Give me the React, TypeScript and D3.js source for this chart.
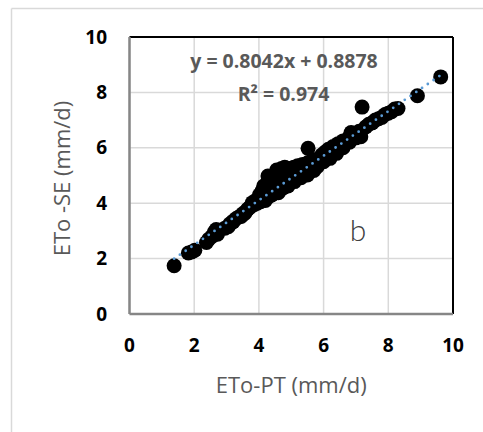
import React from "react";
import * as d3 from "d3";

const xTicks = [0, 2, 4, 6, 8, 10];
const yTicks = [0, 2, 4, 6, 8, 10];
const xTitle = "ETo-PT (mm/d)";
const yTitle = "ETo -SE (mm/d)";
const eqLabel = "y = 0.8042x + 0.8878";
const r2Label = "R² = 0.974";
const panelLabel = "b";
const slope = 0.8042;
const intercept = 0.8878;

const etoPT = [
  1.38, 1.82, 1.92, 2.02, 2.38, 2.45, 2.55, 2.62, 2.68, 2.72,
  2.95, 3.05, 3.1, 3.2, 3.3, 3.38, 3.45, 3.5, 3.6, 3.65,
  3.72, 3.78, 3.8, 3.85, 3.9, 3.95, 4.0, 4.02, 4.05, 4.1,
  4.12, 4.15, 4.2, 4.22, 4.28, 4.3, 4.32, 4.38, 4.4, 4.45,
  4.48, 4.5, 4.55, 4.58, 4.6, 4.65, 4.7, 4.72, 4.75, 4.8,
  4.82, 4.88, 4.9, 4.95, 5.0, 5.02, 5.08, 5.1, 5.15, 5.2,
  5.22, 5.3, 5.35, 5.4, 5.45, 5.5, 5.52, 5.55, 5.6, 5.65,
  5.7, 5.75, 5.82, 5.9, 5.95, 6.0, 6.05, 6.1, 6.15, 6.2,
  6.3, 6.35, 6.45, 6.5, 6.6, 6.7, 6.8, 6.85, 6.95, 7.1,
  7.15, 7.19, 7.3, 7.4, 7.5, 7.6, 7.7, 7.8, 7.9, 8.0,
  8.1, 8.2, 8.3, 8.9, 9.62,
  4.9, 5.1, 5.3, 5.5, 5.7, 5.8, 6.0, 6.2, 6.4, 6.6,
  6.8, 7.0, 3.2, 3.55, 4.6,
];
const etoSE = [
  1.74, 2.2, 2.24, 2.3, 2.58, 2.7, 2.8, 2.95, 3.05, 2.88,
  3.1, 3.15, 3.25, 3.35, 3.45, 3.5, 3.52, 3.62, 3.7, 3.78,
  3.85, 3.92, 4.02, 3.95, 4.1, 4.0, 4.15, 4.3, 4.05, 4.45,
  4.2, 4.62, 4.1, 4.35, 4.98, 4.5, 4.25, 4.7, 4.3, 4.55,
  4.85, 4.4, 5.2, 4.6, 4.45, 4.95, 5.25, 4.7, 4.55, 5.3,
  4.9, 4.75, 5.1, 5.25, 4.85, 5.0, 5.3, 4.95, 5.1, 5.35,
  5.05, 5.2, 5.4, 5.15, 5.3, 5.45, 5.98, 5.25, 5.5, 5.35,
  5.55, 5.45, 5.6, 5.55, 5.75, 5.65, 5.85, 5.75, 5.95, 5.85,
  6.05, 5.95, 6.15, 6.05, 6.25, 6.2, 6.4, 6.55, 6.45, 6.6,
  6.4, 7.47, 6.75, 6.85, 6.9, 7.0, 7.05, 7.1, 7.2, 7.25,
  7.3, 7.4, 7.42, 7.88, 8.56,
  4.62, 4.78, 4.92, 5.02, 5.18, 5.32, 5.5, 5.62, 5.8, 6.0,
  6.2, 6.36, 3.32, 3.62, 4.38,
];

export default function App() {
  const W = 483;
  const H = 432;
  const left = 129.5;
  const right = 453;
  const top = 37;
  const bottom = 314;
  const x = d3.scaleLinear().domain([0, 10]).range([left, right]);
  const y = d3.scaleLinear().domain([0, 10]).range([bottom, top]);

  const xMin = d3.min(etoPT) as number;
  const xMax = d3.max(etoPT) as number;
  const trend = d3
    .line<number>()
    .x((v) => x(v))
    .y((v) => y(slope * v + intercept))([xMin, xMax]);

  const font = "'Open Sans', 'Noto Sans', sans-serif";

  return (
    <svg
      width={W}
      height={H}
      style={{ position: "absolute", left: 0, top: 0, background: "#fff" }}
    >
      <rect x={0} y={0} width={W} height={H} fill="#fff" />
      <line x1={11.5} y1={8.5} x2={W} y2={8.5} stroke="#d9d9d9" strokeWidth={1.5} />
      <line x1={11.5} y1={8.5} x2={11.5} y2={H} stroke="#d9d9d9" strokeWidth={1.5} />

      {xTicks.map((t) => (
        <line key={"gx" + t} x1={x(t)} x2={x(t)} y1={top} y2={bottom} stroke="#d9d9d9" strokeWidth={1.5} />
      ))}
      {yTicks.map((t) => (
        <line key={"gy" + t} x1={left} x2={right} y1={y(t)} y2={y(t)} stroke="#d9d9d9" strokeWidth={1.5} />
      ))}

      <line x1={left} x2={right} y1={top} y2={top} stroke="#000" strokeWidth={2} />
      <line x1={right} x2={right} y1={top} y2={bottom} stroke="#000" strokeWidth={2} />
      <line x1={left} x2={left} y1={top} y2={bottom} stroke="#868686" strokeWidth={2.5} />
      <line x1={left} x2={right} y1={bottom} y2={bottom} stroke="#868686" strokeWidth={2.5} />

      {etoPT.map((v, i) => (
        <circle key={"p" + i} cx={x(v)} cy={y(etoSE[i])} r={7.5} fill="#000" />
      ))}

      <path
        d={trend || ""}
        fill="none"
        stroke="#5b9bd5"
        strokeWidth={2.8}
        strokeDasharray="0 7"
        strokeLinecap="round"
      />

      {xTicks.map((t) => (
        <text
          key={"tx" + t}
          x={x(t)}
          y={352}
          textAnchor="middle"
          fontFamily={font}
          fontWeight={700}
          fontSize={19}
          fill="#000"
        >
          {t}
        </text>
      ))}
      {yTicks.map((t) => (
        <text
          key={"ty" + t}
          x={107}
          y={y(t)}
          dy="0.35em"
          textAnchor="end"
          fontFamily={font}
          fontWeight={700}
          fontSize={19}
          fill="#000"
        >
          {t}
        </text>
      ))}

      <text
        x={(left + right) / 2}
        y={385}
        dy="0.35em"
        textAnchor="middle"
        fontFamily={font}
        fontSize={22}
        fill="#595959"
      >
        {xTitle}
      </text>
      <text
        transform={`translate(62, ${(top + bottom) / 2 + 3}) rotate(-90)`}
        dy="0.35em"
        textAnchor="middle"
        fontFamily={font}
        fontSize={22}
        fill="#595959"
      >
        {yTitle}
      </text>

      <text x={284} y={61} dy="0.35em" textAnchor="middle" fontFamily={font} fontWeight={700} fontSize={19.5} fill="#595959">
        {eqLabel}
      </text>
      <text x={283.5} y={94} dy="0.35em" textAnchor="middle" fontFamily={font} fontWeight={700} fontSize={19.5} fill="#595959">
        {r2Label}
      </text>

      <text x={358} y={230} dy="0.35em" textAnchor="middle" fontFamily="Lato, 'Open Sans', sans-serif" fontWeight={300} fontSize={30} fill="#404040">
        {panelLabel}
      </text>
    </svg>
  );
}
